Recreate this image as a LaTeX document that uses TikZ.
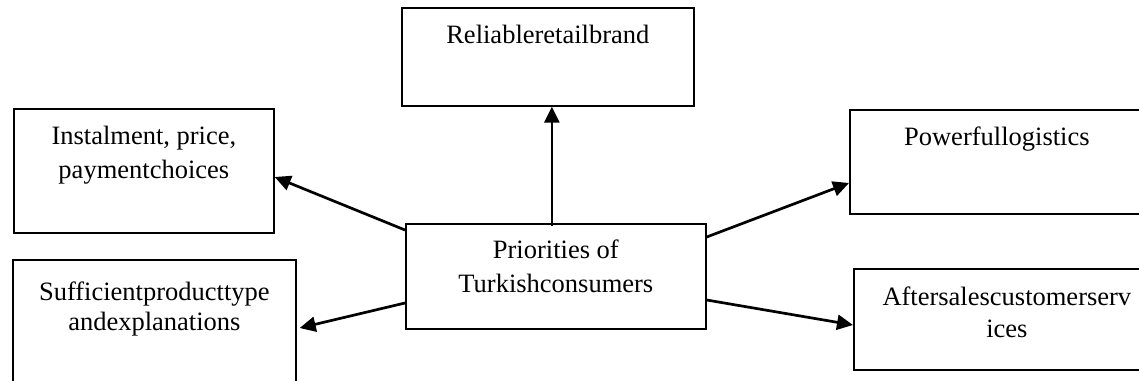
\documentclass[tikz,border=0pt]{standalone}
\usepackage{fontspec}
\setmainfont{Liberation Serif}
\usetikzlibrary{arrows.meta}
\newcommand{\boxtxt}[4]{\parbox[t][#2pt][t]{#1pt}{\centering\fontsize{26.5}{34}\selectfont\rule{0pt}{#3pt}#4\par}}
\tikzset{
  box/.style={draw, line width=1.7pt, inner sep=0pt, anchor=north west},
  arr/.style={line width=2.7pt, -{Triangle[length=16pt,width=15pt]}}
}
\begin{document}
\begin{tikzpicture}[x=1pt,y=-1pt]
\useasboundingbox (0,0) rectangle (1139,380);
\clip (0,0) rectangle (1139,380);
\fill[white] (0,0) rectangle (1139,380);
\node[box] (rel) at (401,7) {\boxtxt{292}{98}{36}{Reliableretailbrand}};
\node[box] (inst) at (13,108) {\boxtxt{260}{124}{36}{Instalment, price,\\ paymentchoices}};
\node[box] (suf) at (12,259) {\boxtxt{283}{140}{41}{Sufficientproducttype\\[-4pt] andexplanations}};
\node[box] (cen) at (405,223) {\boxtxt{300}{105}{35}{Priorities of\\ Turkishconsumers}};
\node[box] (pow) at (849,109) {\boxtxt{294}{104}{36}{Powerfullogistics}};
\node[box] (aft) at (853,268) {\boxtxt{306}{101}{37}{Aftersalescustomerserv\\[-2pt] ices}};
\draw[arr] ([xshift=-4pt,yshift=-3pt]cen.north) -- ([xshift=4pt]rel.south);
\draw[arr] ([yshift=-7pt]cen.north west) -- ([yshift=-69pt]inst.north east);
\draw[arr] ([yshift=-80pt]cen.north west) -- ([xshift=3pt,yshift=-69pt]suf.north east);
\draw[arr] ([yshift=-14pt]cen.north east) -- ([yshift=-74pt]pow.north west);
\draw[arr] ([yshift=-77pt]cen.north east) -- ([yshift=-57pt]aft.north west);
\end{tikzpicture}
\end{document}
